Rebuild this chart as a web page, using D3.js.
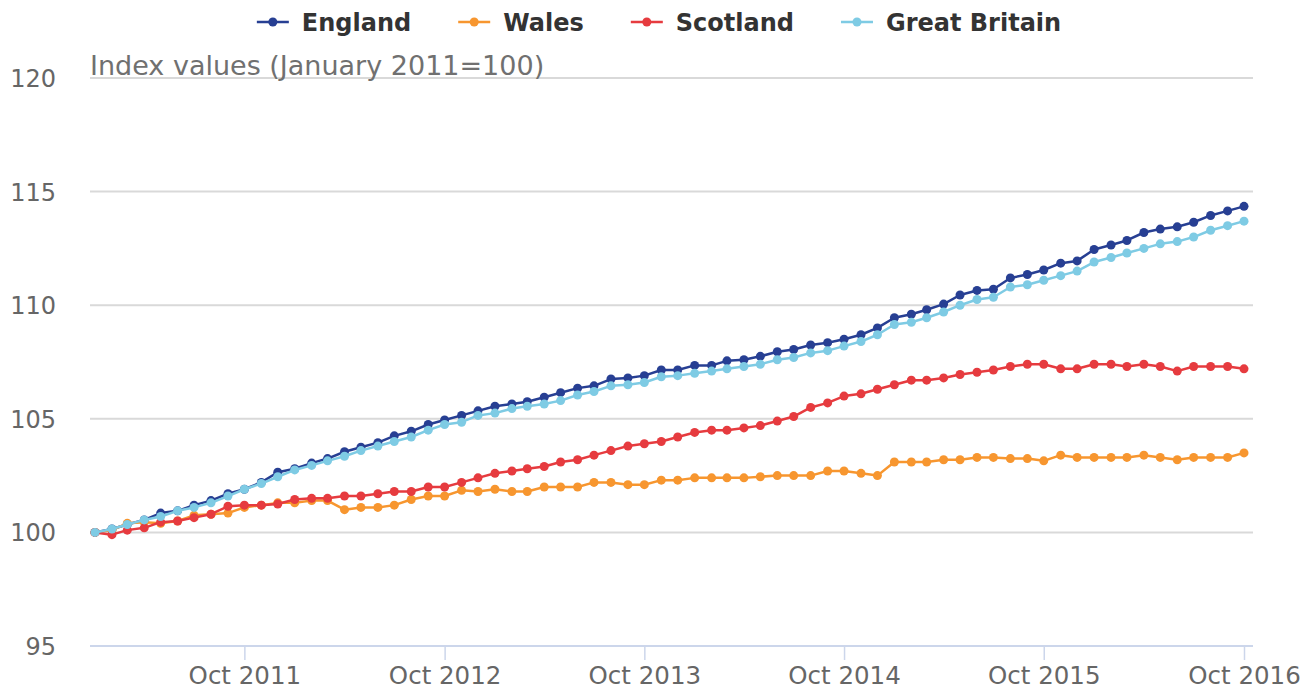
<!DOCTYPE html>
<html>
<head>
<meta charset="utf-8">
<script src="https://cdn.jsdelivr.net/npm/d3@7"></script>
<style>
  html, body { margin: 0; padding: 0; background: #fff; }
  svg { display: block; font-family: "DejaVu Sans", sans-serif; }
</style>
</head>
<body>
<svg id="chart" width="1315" height="693"></svg>
<script>
// ---- data ----
const startMonth = "2011-01";   // first observation (January 2011)
const england = [100.0,100.15,100.35,100.55,100.85,100.95,101.2,101.4,101.7,101.9,
  102.2,102.65,102.8,103.05,103.25,103.55,103.75,103.95,104.25,104.45,
  104.75,104.95,105.15,105.35,105.55,105.65,105.75,105.95,106.15,106.35,
  106.45,106.75,106.8,106.9,107.15,107.15,107.35,107.35,107.55,107.6,
  107.75,107.95,108.05,108.25,108.35,108.5,108.7,109.0,109.45,109.6,
  109.8,110.05,110.45,110.65,110.7,111.2,111.35,111.55,111.85,111.95,
  112.45,112.65,112.85,113.2,113.35,113.45,113.65,113.95,114.15,114.35];
const wales = [100.0,100.1,100.4,100.45,100.4,100.5,100.75,100.8,100.85,101.1,
  101.2,101.3,101.3,101.4,101.4,101.0,101.1,101.1,101.2,101.45,
  101.6,101.6,101.85,101.8,101.9,101.8,101.8,102.0,102.0,102.0,
  102.2,102.2,102.1,102.1,102.3,102.3,102.4,102.4,102.4,102.4,
  102.45,102.5,102.5,102.5,102.7,102.7,102.6,102.5,103.1,103.1,
  103.1,103.2,103.2,103.3,103.3,103.25,103.25,103.15,103.4,103.3,
  103.3,103.3,103.3,103.4,103.3,103.2,103.3,103.3,103.3,103.5];
const scotland = [100.0,99.9,100.1,100.2,100.45,100.5,100.65,100.8,101.15,101.2,
  101.2,101.25,101.45,101.5,101.5,101.6,101.6,101.7,101.8,101.8,
  102.0,102.0,102.2,102.4,102.6,102.7,102.8,102.9,103.1,103.2,
  103.4,103.6,103.8,103.9,104.0,104.2,104.4,104.5,104.5,104.6,
  104.7,104.9,105.1,105.5,105.7,106.0,106.1,106.3,106.5,106.7,
  106.7,106.8,106.95,107.05,107.15,107.3,107.4,107.4,107.2,107.2,
  107.4,107.4,107.3,107.4,107.3,107.1,107.3,107.3,107.3,107.2];
const greatBritain = [100.0,100.15,100.35,100.55,100.7,100.95,101.1,101.3,101.6,101.9,
  102.15,102.45,102.75,102.95,103.15,103.35,103.6,103.8,104.0,104.2,
  104.5,104.75,104.85,105.15,105.25,105.45,105.55,105.65,105.8,106.05,
  106.2,106.45,106.5,106.6,106.85,106.9,107.0,107.1,107.2,107.3,
  107.4,107.6,107.7,107.9,108.0,108.2,108.4,108.7,109.15,109.25,
  109.45,109.7,110.0,110.25,110.35,110.8,110.9,111.1,111.3,111.5,
  111.9,112.1,112.3,112.5,112.7,112.8,113.0,113.3,113.5,113.7];
const seriesNames = ["England", "Wales", "Scotland", "Great Britain"];
const seriesColors = ["#273f93", "#f7962f", "#e63b3f", "#7ecbe4"];
const yTicks = [95, 100, 105, 110, 115, 120];
const xTickDates = ["2011-10", "2012-10", "2013-10", "2014-10", "2015-10", "2016-10"];
const yTitle = "Index values (January 2011=100)";

// ---- build ----
const parseMonth = d3.timeParse("%Y-%m");
const fmt = d3.timeFormat("%b %Y");
const t0 = parseMonth(startMonth);
const dates = england.map((_, i) => d3.timeMonth.offset(t0, i));
const allSeries = [england, wales, scotland, greatBritain].map((vals, k) => ({
  name: seriesNames[k], color: seriesColors[k],
  points: vals.map((v, i) => ({ date: dates[i], value: v }))
}));

const svg = d3.select("#chart");
const plotLeft = 90, plotRight = 1253;

const x = d3.scaleTime()
  .domain([dates[0], dates[dates.length - 1]])
  .range([95, 1244]);
const y = d3.scaleLinear().domain([95, 120]).range([646, 78]);

// gridlines
svg.append("g").selectAll("line")
  .data(yTicks.filter(t => t !== 95))
  .join("line")
  .attr("x1", plotLeft).attr("x2", plotRight)
  .attr("y1", d => y(d)).attr("y2", d => y(d))
  .attr("stroke", "#d9d9d9").attr("stroke-width", 2);

// y axis labels
const yAxis = d3.axisLeft(y).tickValues(yTicks).tickSize(0).tickPadding(0);
const gy = svg.append("g").attr("transform", "translate(56,0)").call(yAxis);
gy.select(".domain").remove();
gy.selectAll("text")
  .attr("font-family", "DejaVu Sans, sans-serif")
  .attr("font-size", 24).attr("fill", "#666666").attr("dy", "0.35em");

// x axis
const xAxis = d3.axisBottom(x)
  .tickValues(xTickDates.map(parseMonth))
  .tickFormat(fmt).tickSize(14).tickPadding(7);
const gx = svg.append("g").attr("transform", "translate(0,646)").call(xAxis);
gx.select(".domain").remove();
gx.selectAll(".tick line").attr("stroke", "#ccd6eb").attr("stroke-width", 1.5);
gx.selectAll("text")
  .attr("font-family", "DejaVu Sans, sans-serif")
  .attr("font-size", 24.5).attr("fill", "#666666");
svg.append("line")
  .attr("x1", plotLeft).attr("x2", plotRight)
  .attr("y1", y(95)).attr("y2", y(95))
  .attr("stroke", "#ccd6eb").attr("stroke-width", 2);

// title
svg.append("text")
  .attr("x", 90).attr("y", 75)
  .attr("font-size", 27).attr("fill", "#707070")
  .text(yTitle);

// lines
const line = d3.line().x(d => x(d.date)).y(d => y(d.value));
const gs = svg.append("g").selectAll("g").data(allSeries).join("g");
gs.append("path")
  .attr("d", d => line(d.points))
  .attr("fill", "none").attr("stroke", d => d.color)
  .attr("stroke-width", 2.5).attr("stroke-linejoin", "round");
gs.selectAll("circle").data(d => d.points.map(p => ({ ...p, color: d.color })))
  .join("circle")
  .attr("cx", d => x(d.date)).attr("cy", d => y(d.value))
  .attr("r", 4.5).attr("fill", d => d.color);

// legend
const legend = svg.append("g");
const items = legend.selectAll("g").data(allSeries).join("g");
items.append("line").attr("x1", 0).attr("x2", 32).attr("y1", 22).attr("y2", 22)
  .attr("stroke", d => d.color).attr("stroke-width", 2.5);
items.append("circle").attr("cx", 16).attr("cy", 22).attr("r", 4.5).attr("fill", d => d.color);
items.append("text").attr("x", 45).attr("y", 31)
  .attr("font-size", 24).attr("font-weight", "bold").attr("fill", "#333333")
  .text(d => d.name);
const widths = [];
items.each(function () {
  const w = 45 + this.querySelector("text").getComputedTextLength();
  widths.push(w);
});
const gap = 47;
const total = d3.sum(widths) + gap * (widths.length - 1);
let start = 659 - total / 2;
items.attr("transform", (d, i) => {
  const tx = start;
  start += widths[i] + gap;
  return `translate(${tx},0)`;
});
</script>
</body>
</html>
